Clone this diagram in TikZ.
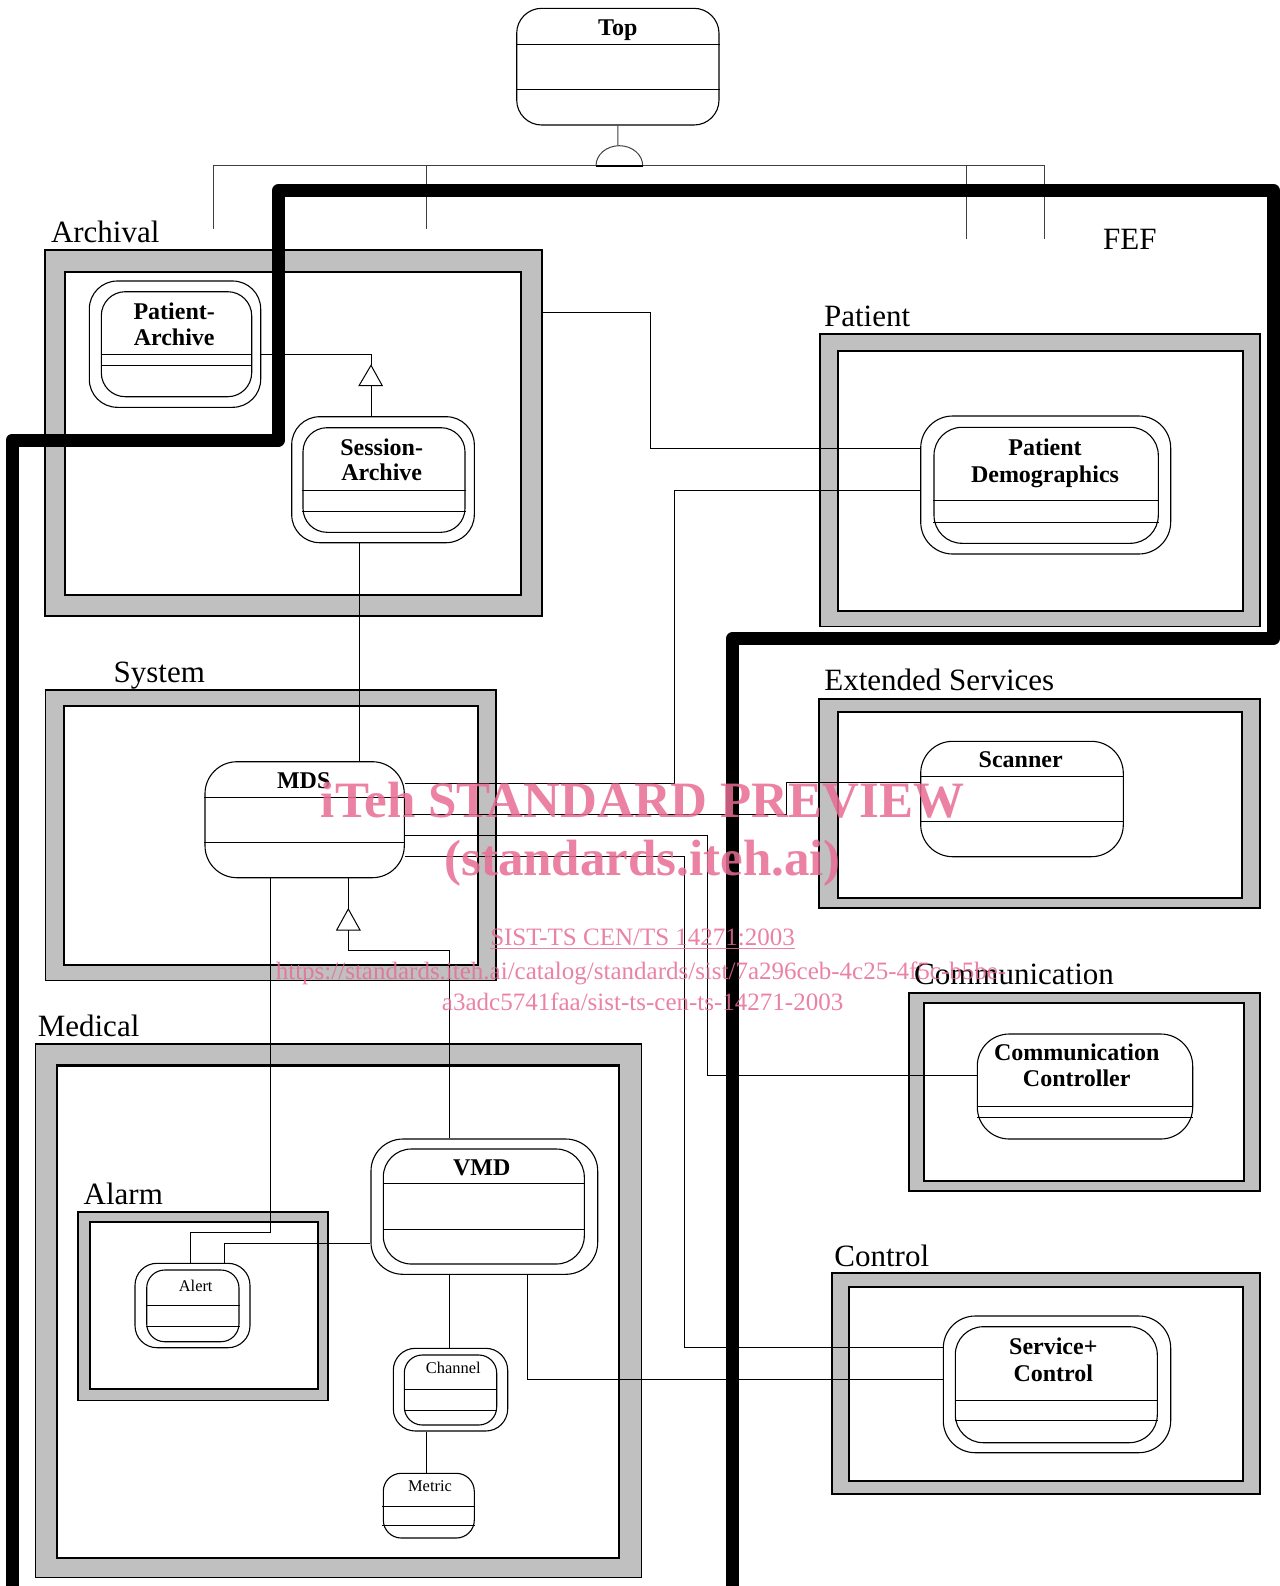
\documentclass[tikz,border=0pt]{standalone}
\usepackage{fontspec}
\setmainfont{Liberation Serif}
\usetikzlibrary{fit}
\definecolor{framegray}{RGB}{192,192,192}
\definecolor{wmpink}{RGB}{232,108,148}
\tikzset{
  conn/.style={line width=0.5pt},
  hier/.style={line width=0.5pt, black!75},
  fouter/.style={draw, line width=0.9pt, fill=framegray, inner sep=0pt},
  finner/.style={draw, line width=1.1pt, fill=white, inner sep=0pt},
  boxline/.style={draw, line width=0.55pt, fill=white, inner sep=0pt},
  comp/.style={line width=0.5pt},
  lbl/.style={font=\fontsize{15.5}{18}\selectfont, inner sep=0pt, anchor=base west},
  btxt/.style={font=\fontsize{12}{14}\selectfont\bfseries, inner sep=0pt, anchor=base},
  stxt/.style={font=\fontsize{8.2}{10}\selectfont, inner sep=0pt, anchor=base},
  wmbig/.style={font=\fontsize{25.5}{30}\selectfont\bfseries, text=wmpink, text opacity=0.85, inner sep=0pt, anchor=base},
  wmsmall/.style={font=\fontsize{12.5}{15}\selectfont, text=wmpink, text opacity=0.85, inner sep=0pt, anchor=base},
  fefline/.style={line width=6.5pt, line join=round, line cap=round},
  gentri/.style={draw, fill=white, line width=0.5pt},
}
\begin{document}
\begin{tikzpicture}[x=0.5pt,y=-0.5pt]
\useasboundingbox[fill=white] (0,0) rectangle (1280,1586);

% ---------- frames ----------
\node[fouter, fit={(44.7,250) (541.7,616)}] (archO) {};
\node[finner, fit={(65.3,271.7) (521,595)}] (archI) {};
\node[fouter, fit={(819.6,334) (1259.8,626.4)}] (patO) {};
\node[finner, fit={(837.9,351) (1242.7,611)}] (patI) {};
\node[fouter, fit={(45.5,690) (495.8,980.5)}] (sysO) {};
\node[finner, fit={(63.7,706.3) (477.6,965.3)}] (sysI) {};
\node[fouter, fit={(819.3,699) (1260,908.3)}] (extO) {};
\node[finner, fit={(838.3,711.7) (1242.3,897.7)}] (extI) {};
\node[fouter, fit={(909.3,992.7) (1260,1190.7)}] (comO) {};
\node[finner, fit={(924,1002.7) (1244.3,1180.7)}] (comI) {};
\node[fouter, fit={(35.4,1044.3) (641.5,1577.5)}] (medO) {};
\node[finner, fit={(56.7,1065.5) (619.3,1558.3)}] (medI) {};
\node[fouter, fit={(78.3,1211.7) (328.3,1400.5)}] (alaO) {};
\node[finner, fit={(90,1222.3) (318.3,1389)}] (alaI) {};
\node[fouter, fit={(831.7,1273.3) (1260,1493.6)}] (ctlO) {};
\node[finner, fit={(849.3,1286.7) (1243.3,1480.7)}] (ctlI) {};

% ---------- frame labels ----------
\node[lbl] (archL) at (50.6,242.7) {Archival};
\node[lbl] (patL) at (823.7,326) {Patient};
\node[lbl] (sysL) at (113.3,682) {System};
\node[lbl] (extL) at (824,690) {Extended Services};
\node[lbl] (comL) at (913.7,984.5) {Communication};
\node[lbl] (medL) at (37.4,1036) {Medical};
\node[lbl] (alaL) at (83.3,1204) {Alarm};
\node[lbl] (ctlL) at (834,1266) {Control};
\node[lbl] (fefL) at (1102.8,249.3) {FEF};

% ---------- Top ----------
\node[boxline, rounded corners=12.5pt, fit={(516.7,8.3) (719,125)}] (top) {};
\draw[comp] (top.west |- 0,44) -- (top.east |- 0,44);
\draw[comp] (top.west |- 0,89.7) -- (top.east |- 0,89.7);
\node[btxt] (topT) at (617.8,35) {Top};

\coordinate (agg) at (617.85,145.7);
\coordinate (aggL) at (596,165.7);
\coordinate (aggR) at (642.7,165.7);
\draw[hier] (top.south) -- (agg);
\draw[hier, fill=white] (aggL) arc[start angle=180, end angle=0, x radius=11.675pt, y radius=10pt] -- cycle;
\draw[line width=1pt] (aggL) -- (aggR);
\coordinate (d1) at (213,229);
\coordinate (d2) at (426.3,229);
\coordinate (d3) at (966,239.3);
\coordinate (d4) at (1044.6,239.3);
\draw[hier] (d1) |- (aggL);
\draw[hier] (aggR) -| (d4);
\draw[hier] (d2) -- (d2 |- aggL);
\draw[hier] (d3) -- (d3 |- aggL);

% ---------- class boxes ----------
% Patient-Archive
\node[boxline, rounded corners=14pt, fit={(89.3,281) (260.7,407.3)}] (pao) {};
\node[boxline, rounded corners=12pt, fit={(101.3,291.7) (251.7,396.7)}] (pai) {};
\draw[comp] (pai.west |- 0,354.3) -- (pai.east |- 0,354.3);
\draw[comp] (pai.west |- 0,365.3) -- (pai.east |- 0,365.3);
\node[btxt] (paT1) at (174.2,319) {Patient-};
\node[btxt] (paT2) at (174.2,345) {Archive};
% Session-Archive
\node[boxline, rounded corners=14pt, fit={(291.7,416.7) (474.3,542.7)}] (sao) {};
\node[boxline, rounded corners=12pt, fit={(303,427.7) (465,532.3)}] (sai) {};
\draw[comp] (sai.west |- 0,490.3) -- (sai.east |- 0,490.3);
\draw[comp] (sai.west |- 0,511) -- (sai.east |- 0,511);
\node[btxt] (saT1) at (381.7,455) {Session-};
\node[btxt] (saT2) at (381.7,480) {Archive};
% Patient Demographics
\node[boxline, rounded corners=16pt, fit={(920.7,416) (1170.7,554)}] (pdo) {};
\node[boxline, rounded corners=14pt, fit={(934,427.3) (1158.3,543.3)}] (pdi) {};
\draw[comp] (pdi.west |- 0,500.7) -- (pdi.east |- 0,500.7);
\draw[comp] (pdi.west |- 0,522) -- (pdi.east |- 0,522);
\node[btxt] (pdT1) at (1045,455) {Patient};
\node[btxt] (pdT2) at (1045,482) {Demographics};
% MDS
\node[boxline, rounded corners=16pt, fit={(205,761.7) (404.3,877.7)}] (mds) {};
\draw[comp] (mds.west |- 0,797.7) -- (mds.east |- 0,797.7);
\draw[comp] (mds.west |- 0,842) -- (mds.east |- 0,842);
\node[btxt] (mdsT) at (303.7,788.3) {MDS};
% Scanner
\node[boxline, rounded corners=16pt, fit={(920.7,741.3) (1123.3,856.7)}] (scan) {};
\draw[comp] (scan.west |- 0,776.3) -- (scan.east |- 0,776.3);
\draw[comp] (scan.west |- 0,821.7) -- (scan.east |- 0,821.7);
\node[btxt] (scanT) at (1020.7,767.7) {Scanner};
% Communication Controller
\node[boxline, rounded corners=16pt, fit={(977.3,1034) (1192.7,1139)}] (cc) {};
\draw[comp] (cc.west |- 0,1106.7) -- (cc.east |- 0,1106.7);
\draw[comp] (cc.west |- 0,1117.3) -- (cc.east |- 0,1117.3);
\node[btxt] (ccT1) at (1076.7,1060.7) {Communication};
\node[btxt] (ccT2) at (1076.7,1086.7) {Controller};
% Service+Control
\node[boxline, rounded corners=16pt, fit={(943.3,1316) (1170.7,1452.7)}] (sco) {};
\node[boxline, rounded corners=14pt, fit={(955.3,1326.7) (1157.3,1442.7)}] (sci) {};
\draw[comp] (sci.west |- 0,1400.7) -- (sci.east |- 0,1400.7);
\draw[comp] (sci.west |- 0,1420.7) -- (sci.east |- 0,1420.7);
\node[btxt] (scT1) at (1053.3,1354) {Service+};
\node[btxt] (scT2) at (1053.3,1381.7) {Control};
% VMD
\node[boxline, rounded corners=16pt, fit={(371,1139) (597.7,1274.3)}] (vmdo) {};
\node[boxline, rounded corners=14pt, fit={(383.3,1149) (584.3,1264)}] (vmdi) {};
\draw[comp] (vmdi.west |- 0,1183.3) -- (vmdi.east |- 0,1183.3);
\draw[comp] (vmdi.west |- 0,1229.3) -- (vmdi.east |- 0,1229.3);
\node[btxt] (vmdT) at (481.7,1175) {VMD};
% Alert
\node[boxline, rounded corners=11pt, fit={(135,1263.3) (250,1347.7)}] (alo) {};
\node[boxline, rounded corners=9pt, fit={(146.7,1270) (239,1341.7)}] (ali) {};
\draw[comp] (ali.west |- 0,1305.3) -- (ali.east |- 0,1305.3);
\draw[comp] (ali.west |- 0,1326.7) -- (ali.east |- 0,1326.7);
\node[stxt] (alT) at (195.7,1291) {Alert};
% Channel
\node[boxline, rounded corners=11pt, fit={(393.3,1348.3) (507.7,1431)}] (cho) {};
\node[boxline, rounded corners=9pt, fit={(404.3,1355) (496.7,1425)}] (chi) {};
\draw[comp] (chi.west |- 0,1389.3) -- (chi.east |- 0,1389.3);
\draw[comp] (chi.west |- 0,1410) -- (chi.east |- 0,1410);
\node[stxt] (chT) at (453.3,1373.3) {Channel};
% Metric
\node[boxline, rounded corners=9pt, fit={(383.3,1473.3) (474.3,1538)}] (met) {};
\draw[comp] (381.7,1506.7) -- (met.east |- 0,1506.7);
\draw[comp] (381.7,1525) -- (met.east |- 0,1525);
\node[stxt] (metT) at (430,1491.7) {Metric};

% ---------- connectors ----------
% Session-Archive -> Patient-Archive (generalization)
\draw[conn] (sao.north -| 371,0) -- (371,385.7);
\draw[gentri] (359,385.7) -- (382.3,385.7) -- (371,365.3) -- cycle;
\draw[conn] (371,365.3) |- (pao.east |- 0,354.3);
% Archival -> Patient Demographics
\draw[conn] (archO.east |- 0,312.7) -| (650.7,448.3) -- (pdo.west |- 0,448.3);
% Session-Archive -- MDS
\draw[conn] (sao.south -| 359.7,0) -- (mds.north -| 359.7,0);
% MDS -> Patient Demographics
\draw[conn] (mds.east |- 0,783.3) -| (674,490) -- (pdo.west |- 0,490);
% MDS -> Scanner
\draw[conn] (mds.east |- 0,814.3) -| (786.6,782.7) -- (scan.west |- 0,782.7);
% MDS -> Communication Controller
\draw[conn] (mds.east |- 0,835.7) -| (707.6,1075.3) -- (cc.west |- 0,1075.3);
% MDS -> Service+Control
\draw[conn] (mds.east |- 0,856) -| (684.8,1347.7) -- (sco.west |- 0,1347.7);
% MDS -> Alert
\draw[conn] (mds.south -| 270,0) |- (190.7,1232.3) -- (alo.north -| 190.7,0);
% Alert -> VMD
\draw[conn] (alo.north -| 224.3,0) |- (vmdo.west |- 0,1243.5);
% VMD -> MDS (generalization)
\draw[conn] (vmdo.north -| 449.3,0) |- (348.3,950.7) -- (348.3,930);
\draw[gentri] (336.7,930) -- (360,930) -- (348.3,909) -- cycle;
\draw[conn] (348.3,909) -- (mds.south -| 348.3,0);
% VMD -- Channel -- Metric
\draw[conn] (vmdo.south -| 449.3,0) -- (cho.north -| 449.3,0);
\draw[conn] (cho.south -| 426.7,0) -- (met.north -| 426.7,0);
% VMD -> Service+Control
\draw[conn] (vmdo.south -| 527.7,0) |- (sco.west |- 0,1379.3);

% ---------- FEF boundary ----------
\draw[fefline] (12,1600) -- (12,440) -- (278.5,440) -- (278.5,190.5) -- (1273.5,190.5) -- (1273.5,638.5) -- (732.6,638.5) -- (732.6,1600);

% ---------- watermark ----------
\node[wmbig] (wm1) at (642.6,817) {iTeh STANDARD PREVIEW};
\node[wmbig] (wm2) at (642.6,875) {(standards.iteh.ai)};
\node[wmsmall] (wm3) at (642.6,945) {\underline{SIST-TS CEN/TS 14271:2003}};
\node[wmsmall] (wm4) at (641,979) {https://standards.iteh.ai/catalog/standards/sist/7a296ceb-4c25-4f5c-b5be-};
\node[wmsmall] (wm5) at (642.6,1010) {a3adc5741faa/sist-ts-cen-ts-14271-2003};
\end{tikzpicture}
\end{document}
